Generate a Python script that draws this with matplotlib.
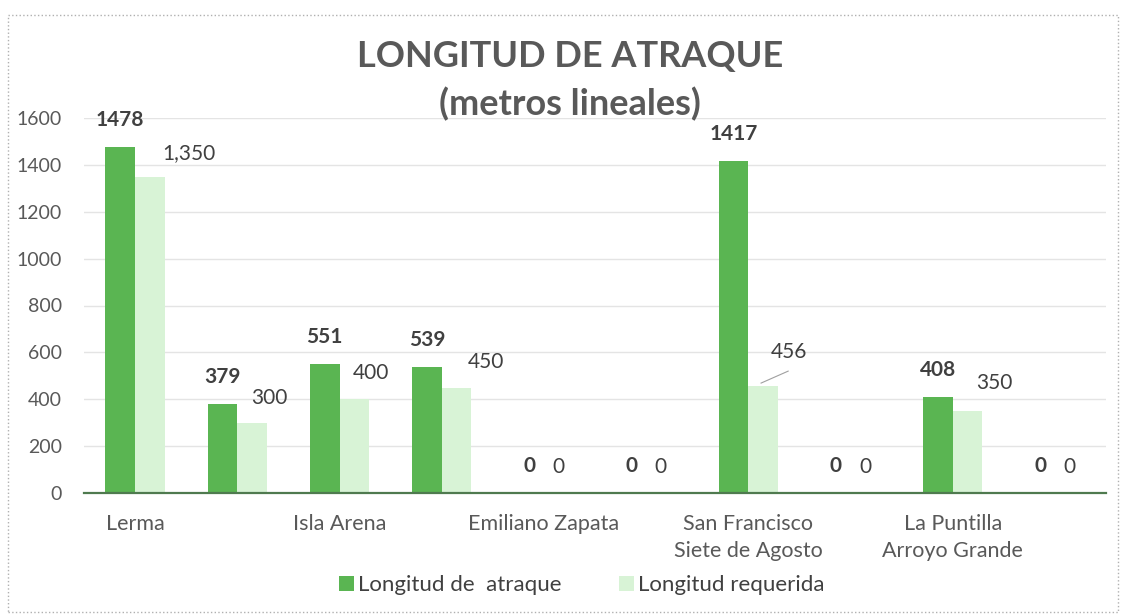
import numpy as np
import matplotlib
matplotlib.use("Agg")
import matplotlib.pyplot as plt
from matplotlib.patches import Rectangle

# chart data
tick_labels = ['Lerma', '', 'Isla Arena', '', 'Emiliano Zapata', '',
               'San Francisco\nSiete de Agosto', '', 'La Puntilla\nArroyo Grande', '']
atraque = [1478, 379, 551, 539, 0, 0, 1417, 0, 408, 0]
requerida = [1350, 300, 400, 450, 0, 0, 456, 0, 350, 0]
requerida_text = ['1,350', '300', '400', '450', '0', '0', '456', '0', '350', '0']

# extra offsets (pixels) of the light-bar labels that were dragged in the original
req_dx = [39, 17, 17, 29, 0, 0, 26, 0, 27, 0]
req_dy = [24, 25, 26, 26, 26, 26, 34, 26, 28, 26]

dark = '#5ab552'
light = '#d8f3d6'
text_col = '#404040'

plt.rcParams['font.family'] = ['Lato', 'DejaVu Sans']

fig = plt.figure(figsize=(11.24, 6.16), dpi=100)
ax = fig.add_axes([84 / 1124, 1 - 493 / 616, 1022 / 1124, 375 / 616])

x = np.arange(len(atraque))
w = 0.29
b1 = ax.bar(x - w / 2, atraque, w, color=dark, label='Longitud de  atraque', zorder=3)
b2 = ax.bar(x + w / 2, requerida, w, color=light, label='Longitud requerida', zorder=3)

ax.set_xlim(-0.5, len(x) - 0.5)
ax.set_ylim(0, 1600)
ax.set_yticks(range(0, 1601, 200))
ax.set_xticks(x)
ax.set_xticklabels(tick_labels, fontsize=15.5, color=text_col, linespacing=1.45)
ax.tick_params(axis='both', length=0, labelcolor='#595959')
ax.tick_params(axis='y', pad=16, labelsize=14)
ax.tick_params(axis='x', pad=15)
ax.grid(axis='y', color='#e4e4e4', linewidth=1, zorder=0)
for s in ['top', 'right', 'left']:
    ax.spines[s].set_visible(False)
ax.spines['bottom'].set_color('#4f7a4f')
ax.spines['bottom'].set_linewidth(1.6)
ax.spines['bottom'].set_zorder(4)

# data labels
for i, v in enumerate(atraque):
    ax.annotate(str(v), (x[i] - w / 2, v), xytext=(0, 27), textcoords='offset pixels',
                ha='center', va='center', fontsize=15, fontweight='bold', color=text_col)
for i, v in enumerate(requerida):
    ax.annotate(requerida_text[i], (x[i] + w / 2, v), xytext=(req_dx[i], req_dy[i]),
                textcoords='offset pixels', ha='center', va='center',
                fontsize=15, color=text_col)
# leader line for 456
ax.plot([x[6] + w / 2 - 0.02, x[6] + w / 2 + 0.245], [requerida[6] + 13, requerida[6] + 64],
        color='#a0a0a0', linewidth=0.8, zorder=4)

fig.text(570 / 1124, 1 - 56 / 616, 'LONGITUD DE ATRAQUE', ha='center', va='center',
         fontsize=26, fontweight='bold', color='#595959')
fig.text(570 / 1124, 1 - 104 / 616, '(metros lineales)', ha='center', va='center',
         fontsize=26, fontweight='bold', color='#595959')

fig.legend(handles=[b1, b2], loc='center', bbox_to_anchor=(582 / 1124, 1 - 585 / 616),
           ncol=2, frameon=False, fontsize=16, labelcolor=text_col,
           handlelength=0.65, handleheight=0.65, handletextpad=0.2, columnspacing=2.6)

fig.patches.append(Rectangle((8 / 1124, 1 - 612 / 616), 1110 / 1124, 597 / 616,
                             transform=fig.transFigure, fill=False, edgecolor='#b0b0b0',
                             linestyle=':', linewidth=1))

fig.savefig('out.png', dpi=100)
